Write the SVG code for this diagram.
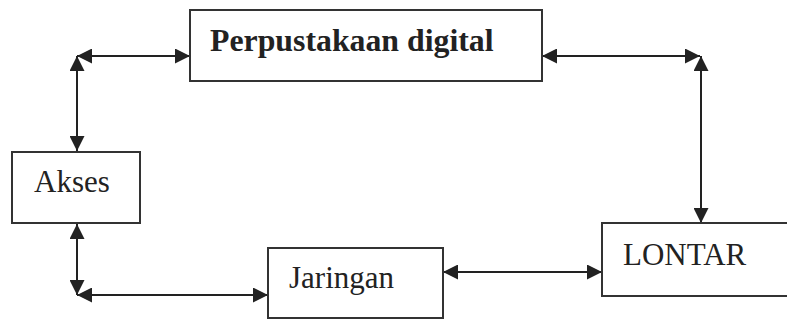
<svg xmlns="http://www.w3.org/2000/svg" width="787" height="320" viewBox="0 0 787 320">
  <style>
    .box { fill: #ffffff; stroke: #333333; stroke-width: 2; }
    .lbl { font-family: "Liberation Serif", "Times New Roman", serif; font-size: 31px; fill: #222222; }
    .bold { font-weight: bold; font-size: 31.8px; }
    .conn { fill: none; stroke: #222222; stroke-width: 2; marker-start: url(#ah); marker-end: url(#ah); }
  </style>
  <defs>
    <marker id="ah" viewBox="0 0 15 15" refX="15" refY="7.5" markerWidth="15" markerHeight="15" markerUnits="userSpaceOnUse" orient="auto-start-reverse">
      <path d="M0,0 L15,7.5 L0,15 z" fill="#222222"/>
    </marker>
  </defs>
  <rect width="787" height="320" fill="#ffffff"/>

  <g id="connectors">
    <line class="conn" x1="77" y1="56" x2="190" y2="56"/>
    <line class="conn" x1="77" y1="56" x2="77" y2="151"/>
    <line class="conn" x1="542" y1="56" x2="700" y2="56"/>
    <line class="conn" x1="701" y1="56" x2="701" y2="223"/>
    <line class="conn" x1="77" y1="224" x2="77" y2="295"/>
    <line class="conn" x1="77" y1="295" x2="268" y2="295"/>
    <line class="conn" x1="443" y1="272" x2="602" y2="272"/>
  </g>

  <g id="perpustakaan">
    <rect class="box" x="190" y="10" width="352" height="71"/>
    <text class="lbl bold" x="210" y="51">Perpustakaan digital</text>
  </g>

  <g id="akses">
    <rect class="box" x="12" y="152" width="128" height="71"/>
    <text class="lbl" x="34" y="192">Akses</text>
  </g>

  <g id="jaringan">
    <rect class="box" x="268" y="248" width="175" height="70"/>
    <text class="lbl" x="289" y="288">Jaringan</text>
  </g>

  <g id="lontar">
    <rect class="box" x="602" y="223" width="200" height="73"/>
    <text class="lbl" x="623" y="265">LONTAR</text>
  </g>
</svg>
